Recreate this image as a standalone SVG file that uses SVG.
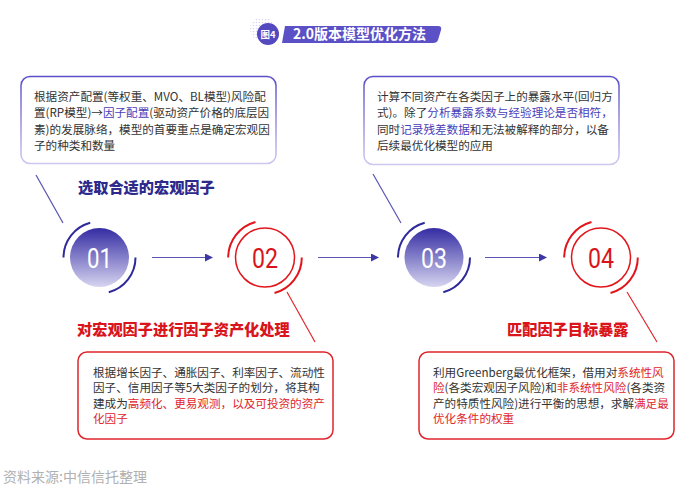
<svg xmlns="http://www.w3.org/2000/svg" width="700" height="498" viewBox="0 0 700 498">
<style>
text{font-family:"Noto Sans CJK SC","Noto Sans",sans-serif}
.body{font-size:11.6px;fill:#333}
.pu{fill:#4a40b8}
.rd{fill:#e0262c}
.h{font-size:15.2px;font-weight:900}
.num{font-family:Roboto,"Noto Sans",sans-serif;font-size:28px;text-anchor:middle}
.cp{fill:none;stroke:#5a55b5;stroke-width:1.2}
.cr{fill:none;stroke:#e0262c;stroke-width:1.2}
.arcp{fill:none;stroke:#2f2a9a;stroke-width:2}
.arcr{fill:none;stroke:#e0161c;stroke-width:2}
</style>
<defs>
<linearGradient id="gfill" x1="0" y1="0" x2="0" y2="1">
<stop offset="0" stop-color="#342ca3"/>
<stop offset="1" stop-color="#d6d4f0"/>
</linearGradient>
<linearGradient id="gborder" x1="0" y1="0" x2="0" y2="1">
<stop offset="0" stop-color="#5a4fc8"/>
<stop offset="1" stop-color="#cdc9ef"/>
</linearGradient>
<marker id="arr" markerWidth="8" markerHeight="8" refX="7" refY="4" orient="auto" markerUnits="userSpaceOnUse">
<path d="M0,0 L8,4 L0,8 Z" fill="#3d37a5"/>
</marker>
<pattern id="dots" width="3" height="3" patternUnits="userSpaceOnUse">
<circle cx="1.5" cy="1.5" r="0.8" fill="#d9d7f0"/>
</pattern>
</defs>
<rect width="700" height="498" fill="#fff"/>

<g id="title">
<circle cx="262" cy="29" r="12" fill="url(#dots)"/>
<circle cx="268" cy="34" r="11" fill="#5449bf"/>
<text x="268" y="37.5" font-size="9.5" font-weight="bold" fill="#fff" text-anchor="middle">图4</text>
<path d="M285,26 L438,26 Q442,26 441,30 L438,40 Q437,43 433,43 L282,43 Z" fill="#5b50c6"/>
<text x="293" y="39" font-size="14" font-weight="bold" fill="#fff">2.0版本模型优化方法</text>
</g>

<g id="box1">
<rect x="21" y="76.5" width="255" height="87" rx="9" fill="#fff" stroke="url(#gborder)" stroke-width="1.5"/>
<text class="body" x="34" y="100.5">根据资产配置(等权重、MVO、BL模型)风险配</text>
<text class="body" x="34" y="117">置(RP模型)→<tspan class="pu">因子配置</tspan>(驱动资产价格的底层因</text>
<text class="body" x="34" y="133.5">素)的发展脉络，模型的首要重点是确定宏观因</text>
<text class="body" x="34" y="150">子的种类和数量</text>
</g>

<g id="box3">
<rect x="364" y="76.5" width="255" height="88" rx="9" fill="#fff" stroke="url(#gborder)" stroke-width="1.5"/>
<text class="body" x="377" y="100.5">计算不同资产在各类因子上的暴露水平(回归方</text>
<text class="body" x="377" y="117">式)。除了<tspan class="pu">分析暴露系数与经验理论是否相符，</tspan></text>
<text class="body" x="377" y="133.5">同时<tspan class="pu">记录残差数据</tspan>和无法被解释的部分，以备</text>
<text class="body" x="377" y="150">后续最优化模型的应用</text>
</g>

<g id="heading1">
<text class="h" x="78" y="192.5" fill="#2d2a8c">选取合适的宏观因子</text>
</g>

<g id="node01">
<circle cx="99.5" cy="257.5" r="29.5" fill="url(#gfill)"/>
<path class="arcp" d="M90.2,222.7 A36,36 0 0 0 63.5,257.5"/>
<path class="arcp" d="M135.5,257.5 A36,36 0 0 1 108.8,292.3"/>
<text class="num" x="99.5" y="267.5" fill="#fff" textLength="25" lengthAdjust="spacingAndGlyphs">01</text>
</g>

<g id="node02">
<circle cx="265" cy="257.5" r="29.5" fill="#fff" stroke="#e0161c" stroke-width="1.5"/>
<path class="arcr" d="M255.5,222 A36.8,36.8 0 0 0 228.2,257.5"/>
<path class="arcr" d="M301.8,257.5 A36.8,36.8 0 0 1 274.5,293"/>
<text class="num" x="265" y="267.5" fill="#d8141b" textLength="26" lengthAdjust="spacingAndGlyphs">02</text>
</g>

<g id="node03">
<circle cx="434" cy="257.5" r="29.5" fill="url(#gfill)"/>
<path class="arcp" d="M424.7,222.7 A36,36 0 0 0 398,257.5"/>
<path class="arcp" d="M470,257.5 A36,36 0 0 1 443.3,292.3"/>
<text class="num" x="434" y="267.5" fill="#fff" textLength="26" lengthAdjust="spacingAndGlyphs">03</text>
</g>

<g id="node04">
<circle cx="601" cy="257.5" r="29.5" fill="#fff" stroke="#e0161c" stroke-width="1.5"/>
<path class="arcr" d="M591.5,222 A36.8,36.8 0 0 0 564.2,257.5"/>
<path class="arcr" d="M637.8,257.5 A36.8,36.8 0 0 1 610.5,293"/>
<text class="num" x="601" y="267.5" fill="#d8141b" textLength="26" lengthAdjust="spacingAndGlyphs">04</text>
</g>

<g id="heading2">
<text class="h" x="77" y="334.5" fill="#d9141b">对宏观因子进行因子资产化处理</text>
</g>

<g id="heading4">
<text class="h" x="507" y="334.5" fill="#d9141b">匹配因子目标暴露</text>
</g>

<g id="box2">
<rect x="78" y="352" width="255" height="87" rx="9" fill="#fff" stroke="#e0262c" stroke-width="1.5"/>
<text class="body" x="93" y="377">根据增长因子、通胀因子、利率因子、流动性</text>
<text class="body" x="93" y="392">因子、信用因子等5大类因子的划分，将其构</text>
<text class="body" x="93" y="407.5">建成为<tspan class="rd">高频化、更易观测，以及可投资的资产</tspan></text>
<text class="body rd" x="93" y="422.5">化因子</text>
</g>

<g id="box4">
<rect x="419" y="352" width="255" height="87" rx="9" fill="#fff" stroke="#e0262c" stroke-width="1.5"/>
<text class="body" x="433" y="377">利用Greenberg最优化框架，借用对<tspan class="rd">系统性风</tspan></text>
<text class="body" x="433" y="392"><tspan class="rd">险</tspan>(各类宏观因子风险)和<tspan class="rd">非系统性风险</tspan>(各类资</text>
<text class="body" x="433" y="407.5">产的特质性风险)进行平衡的思想，求解<tspan class="rd">满足最</tspan></text>
<text class="body rd" x="433" y="422.5">优化条件的权重</text>
</g>

<g id="connectors">
<line class="cp" x1="36" y1="175" x2="63" y2="223"/>
<line class="cp" x1="373" y1="174" x2="401" y2="223"/>
<line class="cr" x1="287" y1="292" x2="315" y2="342"/>
<line class="cr" x1="627" y1="292" x2="657" y2="342"/>
<line class="cp" x1="152" y1="257.5" x2="212" y2="257.5" marker-end="url(#arr)" stroke="#3d37a5"/>
<line class="cp" x1="318" y1="257.5" x2="378" y2="257.5" marker-end="url(#arr)" stroke="#3d37a5"/>
<line class="cp" x1="485" y1="257.5" x2="546" y2="257.5" marker-end="url(#arr)" stroke="#3d37a5"/>
</g>

<text x="3" y="482" font-size="14" fill="#b0b0b0">资料来源:中信信托整理</text>
</svg>
